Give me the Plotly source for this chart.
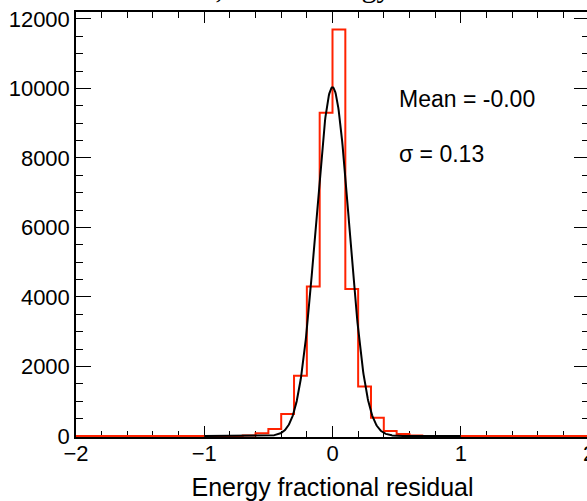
import numpy as np
import plotly.graph_objects as go

# ---- data ----
bin_edges = [round(-2.0 + 0.1 * i, 1) for i in range(41)]
bin_counts = [0, 0, 0, 0, 0, 0, 0, 0, 0, 0,
              0, 0, 0, 15, 78, 200, 633, 1730, 4300, 9300,
              11700, 4230, 1420, 527, 144, 55, 15, 0, 0, 0,
              0, 0, 0, 0, 0, 0, 0, 0, 0, 0]
fit_amp = 10035.0
fit_mean = 0.0
fit_sigma = 0.130
fit_range = [-1.0, 1.0]
x_ticks = [-2, -1, 0, 1, 2]
y_ticks = [0, 2000, 4000, 6000, 8000, 10000, 12000]
y_tick_labels = ["0", "2000", "4000", "6000", "8000", "10000", "12000"]
title_text = "ζ Track Energy"
x_title = "Energy fractional residual"
stat_lines = ["Mean = -0.00", "σ = 0.13"]

# step outline
step_x = list(bin_edges)
step_y = list(bin_counts) + [bin_counts[-1]]

fx = np.linspace(fit_range[0], fit_range[1], 600)
fy = fit_amp * np.exp(-0.5 * ((fx - fit_mean) / fit_sigma) ** 2)

fig = go.Figure()
fig.add_trace(go.Scatter(x=step_x, y=step_y, mode="lines", line_shape="hv",
                         line=dict(color="#ff2200", width=2), hoverinfo="skip"))
fig.add_trace(go.Scatter(x=fx, y=fy, mode="lines",
                         line=dict(color="black", width=2), hoverinfo="skip"))

axis_common = dict(showgrid=False, zeroline=False, showline=True, linecolor="black",
                   linewidth=1.5, mirror="allticks", ticks="inside", tickcolor="black",
                   tickwidth=1, layer="below traces", ticklabeloverflow="allow",
                   automargin=False,
                   tickfont=dict(family="Liberation Sans", size=22, color="black"))

fig.update_layout(
    width=590, height=501,
    margin=dict(l=76, r=1, t=12, b=64),
    paper_bgcolor="white", plot_bgcolor="white",
    showlegend=False,
    xaxis=dict(range=[-2, 2], tickvals=x_ticks, ticklen=11, ticklabelstandoff=-4,
               minor=dict(dtick=0.2, tick0=-2, ticks="inside", ticklen=6, tickcolor="black", tickwidth=1),
               title=dict(text=x_title, font=dict(family="Liberation Sans", size=25, color="black"), standoff=23),
               **axis_common),
    yaxis=dict(range=[-30, 12200], tickvals=y_ticks, ticktext=y_tick_labels, ticklen=15,
               minor=dict(dtick=500, tick0=0, ticks="inside", ticklen=7, tickcolor="black", tickwidth=1),
               **axis_common),
)

fig.add_annotation(text=title_text, xref="paper", yref="paper", x=0.4366, y=1,
                   xanchor="center", yanchor="bottom", yshift=7, showarrow=False,
                   font=dict(family="Liberation Sans" if False else "Liberation Serif", size=30, color="black"))
for i, s in enumerate(stat_lines):
    fig.add_annotation(text=s, xref="x", yref="y", x=0.505, y=[9700, 8110][i],
                       xanchor="left", yanchor="middle", showarrow=False,
                       font=dict(family="Liberation Sans", size=23, color="black"))

fig.write_html("out.html", post_script="document.body.style.overflow='hidden';document.documentElement.style.overflow='hidden';document.body.style.margin='0';")
